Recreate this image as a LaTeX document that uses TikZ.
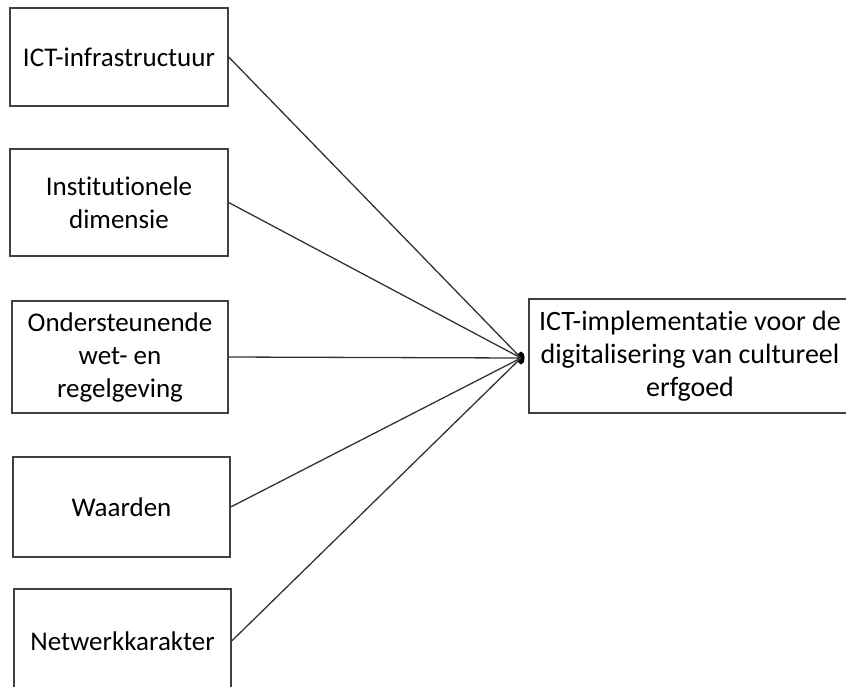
\documentclass[tikz,border=0pt]{standalone}
\usepackage{fontspec}
\setmainfont{Carlito}[RawFeature={-liga}]
\usetikzlibrary{shapes.geometric}
\begin{document}
\begin{tikzpicture}[x=1pt,y=-1pt,
  factor/.style={draw=black!75, line width=1.4pt, fill=white, inner sep=0pt,
    align=center, text=black, font=\fontsize{27pt}{33pt}\selectfont},
  outcome/.style={factor, font=\fontsize{28pt}{33pt}\selectfont},
  link/.style={draw=black!80, line width=1.3pt}]
  \useasboundingbox (0,0) rectangle (846,686);
  \begin{scope}
  \clip (0,0) rectangle (846,686);
  % hub where all influences meet
  \node[ellipse, fill=black, inner sep=0pt, minimum width=7pt, minimum height=13pt] (hub) at (521,358) {};
  % left-hand factors
  \node[factor, minimum width=218pt, minimum height=98pt] (f1) at (119,57) {ICT-infrastructuur};
  \node[factor, minimum width=218pt, minimum height=107pt] (f2) at (119,202.5) {Institutionele\\dimensie};
  \node[factor, minimum width=216pt, minimum height=112pt] (f3) at (120,357) {Ondersteunende\\wet- en\\regelgeving};
  \node[factor, minimum width=217pt, minimum height=100pt] (f4) at (121.5,507) {Waarden};
  \node[factor, minimum width=217pt, minimum height=104pt] (f5) at (122.5,641) {Netwerkkarakter};
  % outcome
  \node[outcome, minimum width=322pt, minimum height=114pt] (out) at (690,356) {ICT-implementatie voor de\\digitalisering van cultureel\\erfgoed};
  % connectors
  \foreach \f in {f1,f2,f3,f4,f5}
    \draw[link] (\f.east) -- (hub.center);
  \end{scope}
\end{tikzpicture}
\end{document}
